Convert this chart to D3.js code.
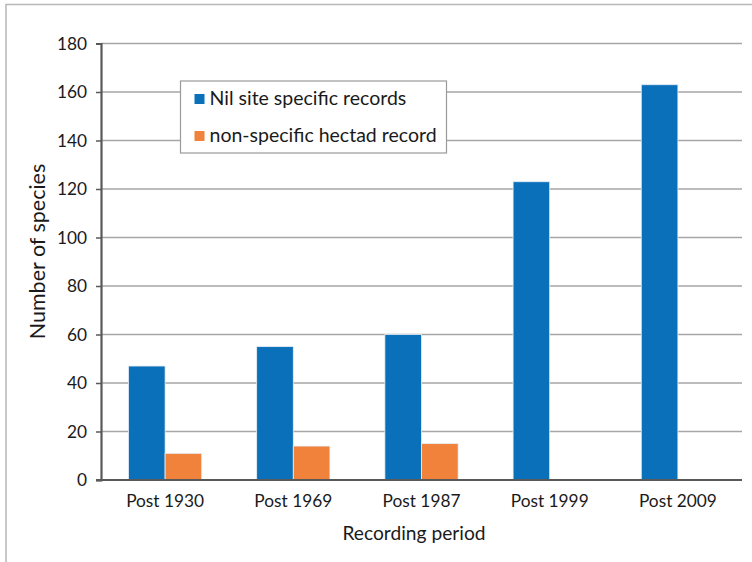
<!DOCTYPE html>
<html>
<head>
<meta charset="utf-8">
<script src="https://cdn.jsdelivr.net/npm/d3@7"></script>
<style>
  html, body { margin: 0; padding: 0; background: #fff; }
  svg { display: block; }
  text { font-family: Lato, "Open Sans", sans-serif; fill: #1a1a1a; }
</style>
</head>
<body>
<svg id="chart" width="752" height="562"></svg>
<script>
// Recording periods and species counts per record type
const periods = ["Post 1930", "Post 1969", "Post 1987", "Post 1999", "Post 2009"];
const seriesNames = ["Nil site specific records", "non-specific hectad record"];
const nilSiteSpecific = [47, 55, 60, 123, 163];
const nonSpecificHectad = [11, 14, 15, 0, 0];
const yTicks = [0, 20, 40, 60, 80, 100, 120, 140, 160, 180];
const colors = ["#0B70BA", "#F0823C"];

const svg = d3.select("#chart");
const plotLeft = 101;
const plotRight = 742;
const plotTop = 43.5;
const plotBottom = 480;

// outer frame (top and left edges visible)
svg.append("rect")
  .attr("x", 6).attr("y", 4.5)
  .attr("width", 800).attr("height", 600)
  .attr("fill", "none").attr("stroke", "#b8b8b8").attr("stroke-width", 1.5);

const x0 = d3.scaleBand().domain(periods).range([plotLeft, plotRight]).paddingInner(0.4286).paddingOuter(0.2143);
const x1 = d3.scaleBand().domain(seriesNames).range([0, x0.bandwidth()]);
const y = d3.scaleLinear().domain([0, 180]).range([plotBottom, plotTop]);

// horizontal gridlines
svg.append("g").selectAll("line").data(yTicks.filter(d => d > 0)).join("line")
  .attr("x1", plotLeft).attr("x2", plotRight)
  .attr("y1", d => y(d)).attr("y2", d => y(d))
  .attr("stroke", "#a6a6a6").attr("stroke-width", 1.3);

// bars
const rows = periods.map((p, i) => ({ period: p, values: [nilSiteSpecific[i], nonSpecificHectad[i]] }));
const groups = svg.append("g").selectAll("g").data(rows).join("g")
  .attr("transform", d => `translate(${x0(d.period)},0)`);
groups.selectAll("rect").data(d => d.values.map((v, k) => ({ v, k })).filter(e => e.v > 0)).join("rect")
  .attr("x", e => x1(seriesNames[e.k]))
  .attr("width", x1.bandwidth())
  .attr("y", e => y(e.v))
  .attr("height", e => y(0) - y(e.v))
  .attr("fill", e => colors[e.k])
  .attr("stroke", "#e8eef5").attr("stroke-width", 0.8);

// y axis
const yAxis = d3.axisLeft(y).tickValues(yTicks).tickSize(5).tickPadding(9);
const gy = svg.append("g").attr("transform", `translate(${plotLeft},0)`).call(yAxis);
gy.select(".domain").attr("stroke", "#595959").attr("stroke-width", 2.2);
gy.selectAll(".tick line").attr("stroke", "#595959").attr("stroke-width", 1.5);
gy.selectAll(".tick text").style("font-size", "17.3px").attr("fill", "#1a1a1a")
  .style("font-family", "Lato, sans-serif");

// x axis
const xAxis = d3.axisBottom(x0).tickSize(0).tickPadding(15);
const gx = svg.append("g").attr("transform", `translate(0,${plotBottom})`).call(xAxis);
gx.select(".domain").attr("stroke", "#595959").attr("stroke-width", 2.2)
  .attr("d", `M${plotLeft - 5},0H${plotRight}`);
gx.selectAll(".tick text").style("font-size", "17.3px").attr("fill", "#1a1a1a")
  .style("font-family", "Lato, sans-serif");

// axis titles
svg.append("text")
  .attr("x", 414).attr("y", 540)
  .attr("text-anchor", "middle").style("font-size", "19.2px")
  .text("Recording period");
svg.append("text")
  .attr("transform", `translate(45,251.5) rotate(-90)`)
  .attr("text-anchor", "middle").style("font-size", "21.5px")
  .text("Number of species");

// legend
const legend = svg.append("g").attr("transform", "translate(180.5,81)");
legend.append("rect").attr("width", 266).attr("height", 72)
  .attr("fill", "#fff").attr("stroke", "#9a9a9a").attr("stroke-width", 1.2);
seriesNames.forEach((name, i) => {
  const row = legend.append("g").attr("transform", `translate(0,${18 + i * 37})`);
  row.append("rect").attr("x", 14).attr("y", -5).attr("width", 10).attr("height", 10).attr("fill", colors[i]);
  row.append("text").attr("x", 29).attr("y", 6).style("font-size", "19.5px").text(name);
});
</script>
</body>
</html>
